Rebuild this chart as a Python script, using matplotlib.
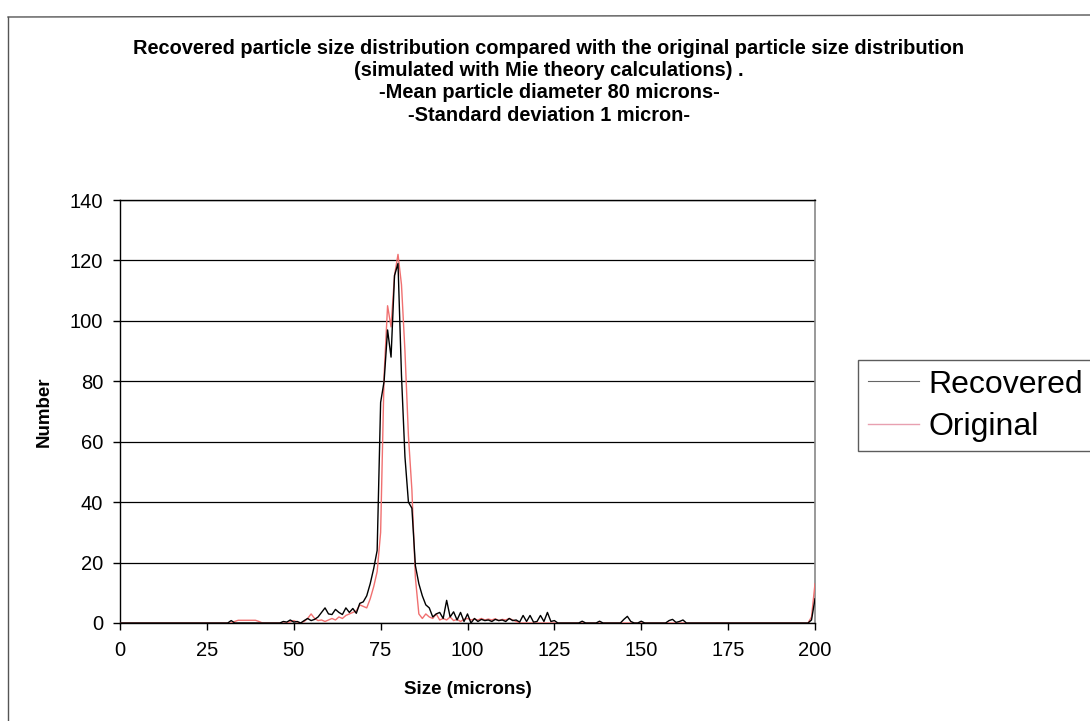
import matplotlib
matplotlib.use("Agg")
import matplotlib.pyplot as plt
from matplotlib.lines import Line2D

plt.rcParams['font.family'] = ['Liberation Sans', 'DejaVu Sans']

# Particle size grid (microns)
size = list(range(0, 201))

# Recovered distribution
recovered = [
    0, 0, 0, 0, 0, 0, 0, 0, 0, 0,
    0, 0, 0, 0, 0, 0, 0, 0, 0, 0,
    0, 0, 0, 0, 0, 0, 0, 0, 0, 0,
    0, 0, 0.8, 0, 0, 0, 0, 0, 0, 0,
    0, 0, 0, 0, 0, 0, 0, 0.5, 0.3, 1.0,
    0.3, 0.5, 0, 0.8, 1.5, 0.8, 1.2, 2.0, 3.5, 5.0,
    3.0, 2.8, 4.5, 3.5, 2.8, 5.0, 3.5, 4.8, 3.2, 6.5,
    7.0, 9.0, 13, 18, 24, 73, 80, 97, 88, 115,
    119, 82, 55, 40, 38, 19, 13, 9, 6, 5,
    2, 3, 3.5, 1.5, 7.5, 2, 3.7, 1, 3.5, 0.5,
    3, 0, 1.5, 0.5, 1.2, 0.8, 1.0, 0.5, 1.2, 0.8,
    1.0, 0.5, 1.5, 0.8, 1.0, 0.3, 2.5, 0.5, 2.5, 0.3,
    0.5, 2.5, 0.5, 3.5, 0.5, 0.8, 0, 0, 0, 0,
    0, 0, 0, 0.6, 0, 0, 0, 0, 0.6, 0,
    0, 0, 0, 0, 0, 1.2, 2.2, 0.5, 0, 0,
    0.6, 0, 0, 0, 0, 0, 0, 0, 0.8, 1.2,
    0.2, 0.5, 1.0, 0, 0, 0, 0, 0, 0, 0,
    0, 0, 0, 0, 0, 0, 0, 0, 0, 0,
    0, 0, 0, 0, 0, 0, 0, 0, 0, 0,
    0, 0, 0, 0, 0, 0, 0, 0, 0, 1,
    8,
]

# Original distribution
original = [
    0, 0, 0, 0, 0, 0, 0, 0, 0, 0,
    0, 0, 0, 0, 0, 0, 0, 0, 0, 0,
    0, 0, 0, 0, 0, 0, 0, 0, 0, 0,
    0, 0, 0, 0.5, 0.9, 0.9, 0.9, 0.9, 0.9, 0.9,
    0.5, 0, 0, 0, 0, 0, 0, 0, 0, 0.4,
    0.8, 0.3, 0, 0.5, 1.5, 3.0, 1.5, 0.8, 1.0, 0.5,
    1.0, 1.5, 1.0, 2.0, 1.5, 2.5, 3.0, 3.5, 4.0, 6.0,
    5.5, 5.0, 8, 12, 17, 30, 82, 105, 98, 115,
    122, 112, 90, 62, 44, 15, 3, 1.5, 3, 2,
    1.5, 3, 1, 1.5, 1, 2, 0.8, 1.2, 0.5, 1.2,
    1.5, 1.0, 1.3, 1.0, 1.5, 1.0, 1.3, 1.0, 1.4, 0.8,
    1.2, 1.0, 1.5, 1.0, 0.5, 0, 0, 0, 0, 0,
    0, 0, 0, 0, 0, 0, 0, 0, 0, 0,
    0, 0, 0, 0, 0, 0, 0, 0, 0, 0,
    0, 0, 0, 0, 0, 0, 0, 0, 0, 0,
    0, 0, 0, 0, 0, 0, 0, 0, 0, 0,
    0, 0, 0, 0, 0, 0, 0, 0, 0, 0,
    0, 0, 0, 0, 0, 0, 0, 0, 0, 0,
    0, 0, 0, 0, 0, 0, 0, 0, 0, 0,
    0, 0, 0, 0, 0, 0, 0, 0, 0, 2,
    13,
]

x_ticks = [0, 25, 50, 75, 100, 125, 150, 175, 200]
y_ticks = [0, 20, 40, 60, 80, 100, 120, 140]

title_lines = [
    "Recovered particle size distribution compared with the original particle size distribution",
    "(simulated with Mie theory calculations) .",
    "-Mean particle diameter 80 microns-",
    "-Standard deviation 1 micron-",
]

W, H = 1090, 721
fig = plt.figure(figsize=(W / 100, H / 100), dpi=100)
fig.patch.set_facecolor("white")

# outer chart frame
fig.add_artist(Line2D([8 / W, 1.0], [1 - 17 / H, 1 - 15 / H], color="#555555", lw=1.0))
fig.add_artist(Line2D([8 / W, 8 / W], [1 - 17 / H, 0.0], color="#555555", lw=1.0))

ax = fig.add_axes([120 / W, 1 - 623 / H, (815 - 120) / W, (623 - 200) / H])

red = "#f07070"
ax.plot(size, recovered, color="black", lw=1.0, label="Recovered", zorder=4)
ax.plot(size, original, color=red, lw=1.0, label="Original", zorder=3)

ax.set_xlim(0, 200)
ax.set_ylim(0, 140)
ax.set_xticks(x_ticks)
ax.set_yticks(y_ticks)
ax.tick_params(axis="both", labelsize=14.5, length=5, width=1, color="black", pad=8)
ax.tick_params(axis="y", pad=7)
ax.yaxis.grid(True, color="black", lw=0.9)
ax.set_axisbelow(True)

for side in ("left", "bottom", "top"):
    ax.spines[side].set_color("black")
    ax.spines[side].set_linewidth(1.0)
ax.spines["right"].set_color("#888888")
ax.spines["right"].set_linewidth(1.2)

ax.set_xlabel("Size (microns)", fontsize=13.5, fontweight="bold", labelpad=15)
ax.set_ylabel("Number", fontsize=13.5, fontweight="bold", labelpad=12)

for i, line in enumerate(title_lines):
    fig.text(549 / W, 1 - (48 + i * 22.5) / H, line, ha="center", va="center",
             fontsize=14.4, fontweight="bold")

handles = [Line2D([], [], color="#666666", lw=0.8),
           Line2D([], [], color="#e8a0b0", lw=1.0)]
leg = fig.legend(handles, ["Recovered", "Original"],
                 loc="upper left", bbox_to_anchor=(858 / W, 1 - 360 / H),
                 fontsize=23, frameon=True, fancybox=False,
                 handlelength=1.6, handletextpad=0.3, borderpad=0.3,
                 labelspacing=0.38, borderaxespad=0)
leg.get_frame().set_edgecolor("#333333")
leg.get_frame().set_linewidth(1.0)

fig.savefig("out.png", dpi=100, facecolor="white")
